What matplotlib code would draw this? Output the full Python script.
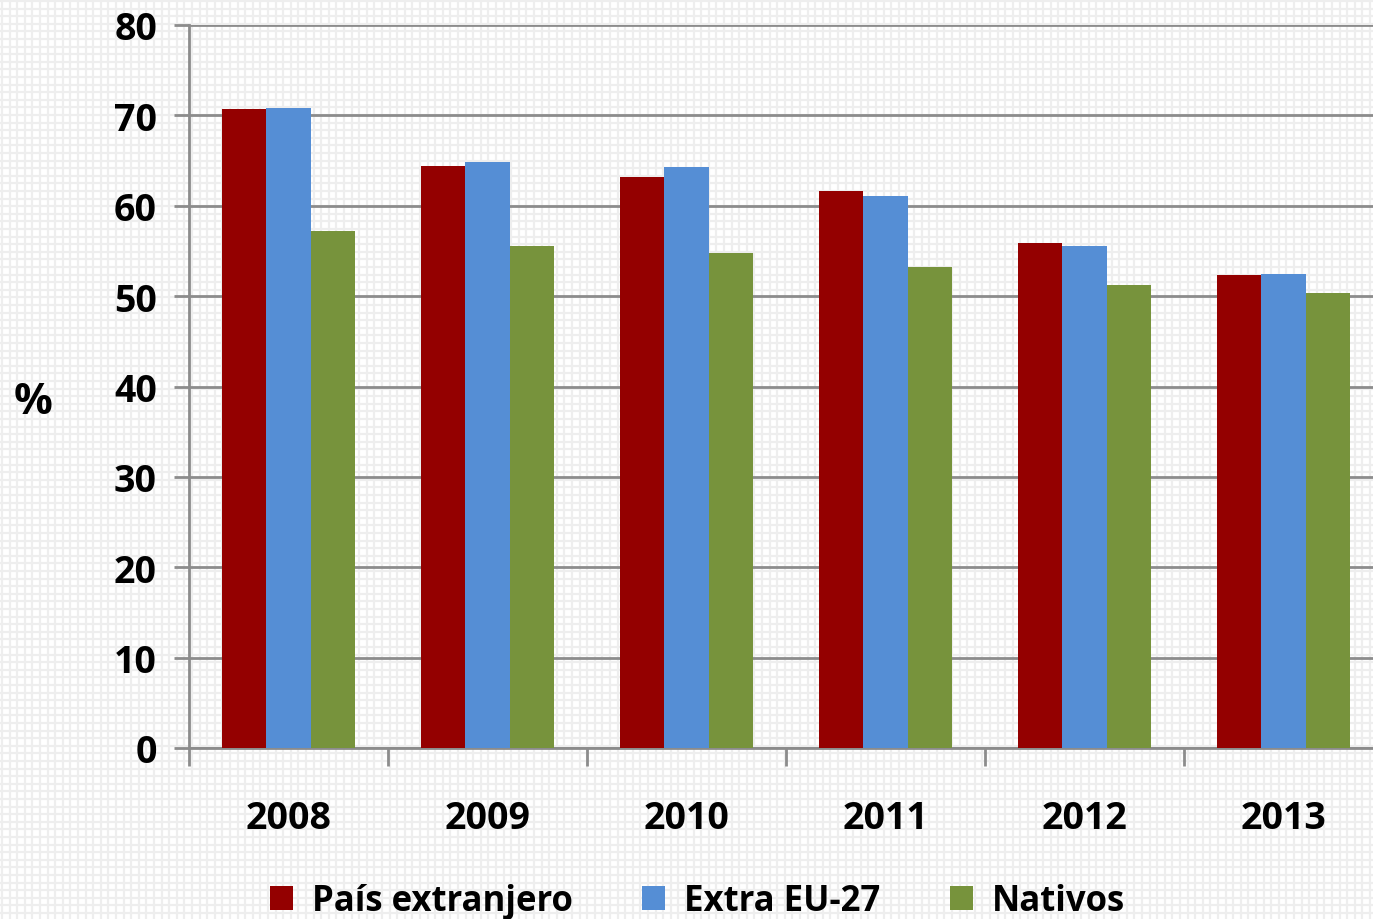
import numpy as np
import matplotlib.pyplot as plt

years = ['2008', '2009', '2010', '2011', '2012', '2013']
pais_extranjero = [70.7, 64.4, 63.2, 61.6, 55.9, 52.3]
extra_eu27 = [70.8, 64.8, 64.3, 61.1, 55.5, 52.5]
nativos = [57.2, 55.6, 54.8, 53.2, 51.2, 50.3]

series = [('País extranjero', pais_extranjero, '#940000'),
          ('Extra EU-27', extra_eu27, '#558ED5'),
          ('Nativos', nativos, '#77933C')]

plt.rcParams['font.family'] = ['Open Sans', 'DejaVu Sans']
plt.rcParams['font.weight'] = 'bold'

W, H = 1373, 920
fig = plt.figure(figsize=(W / 100, H / 100), dpi=100)

# light squared paper background
bg = fig.add_axes([0, 0, 1, 1], zorder=0)
bg.set_xlim(0, W)
bg.set_ylim(H, 0)
bg.axis('off')
for v in np.arange(2, W, 7.6):
    bg.axvline(v, color='#eeeeee', lw=1.6)
for v in np.arange(2, H, 7.6):
    bg.axhline(v, color='#eeeeee', lw=1.6)

ax = fig.add_axes([189 / W, 1 - 749 / H, (1383 - 189) / W, (749 - 26) / H], zorder=1)
ax.patch.set_alpha(0)

x = np.arange(len(years))
width = 1 / 4.5
handles = []
for i, (name, vals, col) in enumerate(series):
    b = ax.bar(x + (i - 1) * width, vals, width, color=col, label=name, zorder=3)
    handles.append(b)

ax.set_xlim(-0.5, len(years) - 0.5)
ax.set_ylim(0, 80)
ax.set_yticks(range(0, 81, 10))
ax.yaxis.grid(True, color='#8c8c8c', lw=2, zorder=1)
ax.set_axisbelow(True)

ax.set_xticks(np.arange(len(years) + 1) - 0.5)
ax.set_xticklabels([])
ax.set_xticks(x, minor=True)
ax.set_xticklabels(years, minor=True)
ax.tick_params(axis='x', which='major', length=13, width=2, color='#8c8c8c', direction='out')
ax.tick_params(axis='x', which='minor', length=0, pad=37, labelsize=27)
ax.tick_params(axis='y', length=11, width=2, color='#8c8c8c', pad=12, labelsize=27)

for s in ['top', 'right']:
    ax.spines[s].set_visible(False)
for s in ['left', 'bottom']:
    ax.spines[s].set_color('#8c8c8c')
    ax.spines[s].set_linewidth(2)

fig.text(33 / W, 1 - 403 / H, '%', fontsize=31, fontweight='bold', ha='center', va='center')

fig.legend(handles=handles, loc='lower center', bbox_to_anchor=(0.508, -0.034), ncol=3,
           frameon=False, fontsize=25, handlelength=0.66, handleheight=0.66,
           handletextpad=0.55, columnspacing=2.0)

fig.savefig('out.png', dpi=100)
